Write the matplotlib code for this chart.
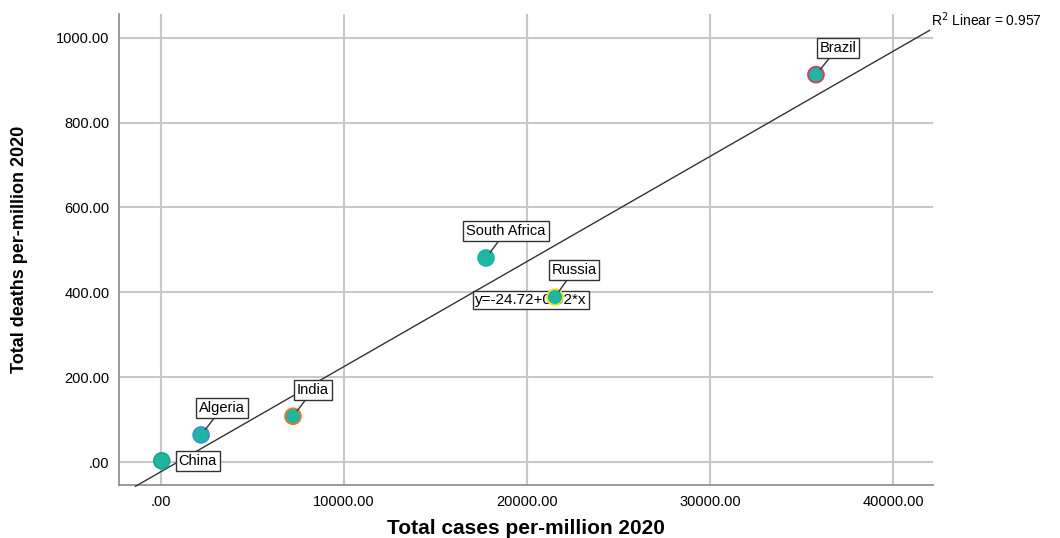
import numpy as np
import matplotlib.pyplot as plt

plt.rcParams['font.family'] = ['Liberation Sans', 'DejaVu Sans']

countries = ['China', 'Algeria', 'India', 'South Africa', 'Russia', 'Brazil']
cases = [40, 2190, 7210, 17760, 21530, 35790]
deaths = [3, 64, 108, 481, 389, 913]
edges = ['#1aa888', '#3d8fe0', '#e8752a', '#1fb5a0', '#e8e030', '#d83a5a']
# label offsets in pixels
offsets = [(36, 0), (21, 27), (20, 26), (20, 27), (19, 27), (22, 27)]

xticks = [0, 10000, 20000, 30000, 40000]
yticks = [0, 200, 400, 600, 800, 1000]

fig = plt.figure(figsize=(10.6, 5.38), dpi=100)
ax = fig.add_axes([0.1123, 0.0985, 0.7679, 0.8755])

ax.set_xlim(-2295, 42186)
ax.set_ylim(-54, 1056)
ax.set_xticks(xticks)
ax.set_yticks(yticks)
ax.set_xticklabels(['.00' if v == 0 else f'{v:.2f}' for v in xticks])
ax.set_yticklabels(['.00' if v == 0 else f'{v:.2f}' for v in yticks])
ax.tick_params(length=0, labelsize=10.5, pad=7)
ax.grid(True, color='#c8c8c8', lw=1.5)
ax.set_axisbelow(True)
for s in ['top', 'right']:
    ax.spines[s].set_visible(False)
for s in ['left', 'bottom']:
    ax.spines[s].set_color('#8a8a8a')
    ax.spines[s].set_linewidth(1.2)

# fit line
slope, icpt = np.polyfit(cases, deaths, 1)
xl = np.array([-1400, 42000])
ax.plot(xl, icpt + slope * xl, color='#333333', lw=1, zorder=3, clip_on=False)
ax.text(42100, icpt + slope * 42000 + 2, 'R$^2$ Linear = 0.957', fontsize=10,
        va='bottom', ha='left', clip_on=False)

ax.text(20200, 382, 'y=-24.72+0.02*x', fontsize=11, ha='center', va='center',
        bbox=dict(boxstyle='square,pad=0.15', fc='white', ec='#333333', lw=1), zorder=2)

ax.scatter(cases, deaths, s=130, c='#1fb5a0', edgecolors=edges, linewidths=1.3, zorder=4)

for name, x, y, off in zip(countries, cases, deaths, offsets):
    ap = None if name == 'China' else dict(arrowstyle='-', color='#333333', lw=1,
                                            shrinkA=0, shrinkB=5)
    ax.annotate(name, (x, y), xytext=off, textcoords='offset pixels', fontsize=10.5,
                ha='center', va='center', arrowprops=ap, zorder=5,
                bbox=dict(boxstyle='square,pad=0.2', fc='white', ec='#333333', lw=1))

ax.set_xlabel('Total cases per-million 2020', fontsize=15, fontweight='bold')
ax.xaxis.set_label_coords(0.5, -0.072)
ax.set_ylabel('Total deaths per-million 2020', fontsize=13, fontweight='bold')
ax.yaxis.set_label_coords(-0.112, 0.5)

fig.savefig('out.png', dpi=100)
